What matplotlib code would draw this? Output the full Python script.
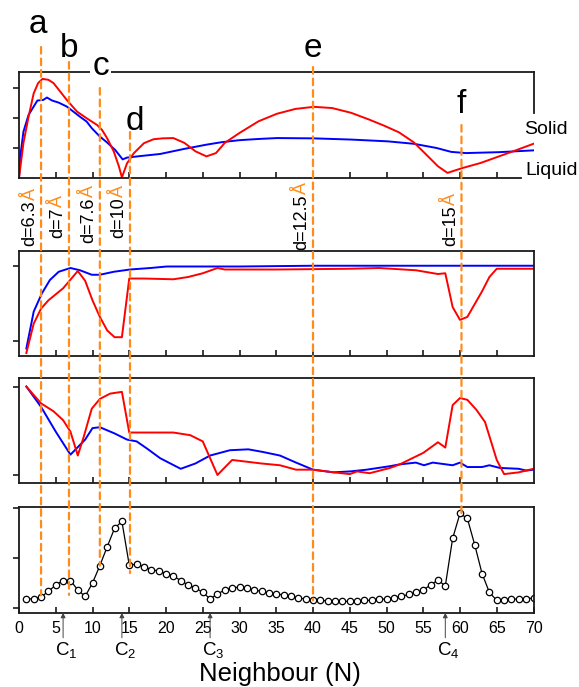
import matplotlib
matplotlib.use("Agg")
import matplotlib.pyplot as plt
from matplotlib.patches import ConnectionPatch

plt.rcParams["font.family"] = "Liberation Sans"
plt.rcParams["mathtext.fontset"] = "custom"
plt.rcParams["mathtext.rm"] = "Liberation Sans"
plt.rcParams["mathtext.it"] = "Liberation Sans:italic"

# ---- top panel: solid / liquid curves
top_n_red = [0, 0.6, 1.3, 2.0, 2.6, 3.2, 4.0, 4.7, 5.6, 6.5, 7.9, 9.2, 10.6, 11.3, 12.0,
             12.9, 13.6, 14.0, 14.7, 15.6, 17.0, 18.3, 19.5, 21.0, 22.5, 24.0, 25.5, 26.8,
             28.0, 30.0, 32.6, 35.1, 37.6, 40.1, 42.6, 45.2, 47.7, 49.7, 51.7, 53.7, 55.2,
             57.0, 58.3, 60.3, 62.8, 65.3, 67.8, 70]
top_red = [0, 1.16, 2.04, 2.82, 3.16, 3.30, 3.27, 3.16, 2.88, 2.60, 2.21, 1.99, 1.77, 1.60,
           1.32, 0.88, 0.38, 0.02, 0.49, 0.82, 1.16, 1.29, 1.32, 1.33, 1.17, 0.89, 0.72, 0.83,
           1.17, 1.50, 1.89, 2.14, 2.30, 2.37, 2.33, 2.17, 1.94, 1.74, 1.52, 1.19, 0.83,
           0.39, 0.17, 0.33, 0.50, 0.72, 0.94, 1.14]
top_n_blue = [0, 0.23, 0.6, 1.3, 2.0, 2.5, 3.3, 3.8, 4.5, 5.4, 6.5, 7.4, 8.3, 9.2, 9.9, 11.0,
              12.0, 13.1, 14.1, 14.7, 16.5, 19.2, 22.5, 25.5, 27.5, 30.0, 32.6, 35.1, 40.1,
              45.2, 50.2, 53.7, 56.8, 58.8, 60.8, 65.3, 70]
top_blue = [0, 0.82, 1.54, 2.10, 2.38, 2.58, 2.60, 2.68, 2.58, 2.51, 2.38, 2.21, 2.04, 1.88,
            1.66, 1.38, 1.18, 0.93, 0.62, 0.68, 0.73, 0.80, 0.97, 1.11, 1.19, 1.26, 1.30,
            1.33, 1.32, 1.28, 1.22, 1.14, 1.00, 0.87, 0.83, 0.86, 0.92]

# ---- second panel
mid1_n_blue = [1, 2, 3.1, 4.2, 5.4, 7.0, 8.3, 9.9, 11.0, 12.9, 15.1, 17.9, 20.1, 25, 30, 40,
               50, 60, 70]
mid1_blue = [-0.10, 0.39, 0.63, 0.81, 0.92, 0.97, 0.94, 0.88, 0.88, 0.92, 0.95, 0.97, 0.99,
             0.99, 0.99, 1.0, 1.0, 1.0, 1.0]
mid1_n_red = [1, 2, 3, 4, 6, 8, 9, 10, 11, 12, 13, 14, 15, 17, 21, 23, 25, 27, 28, 35, 45,
              49, 54, 57, 58, 59, 60, 61, 63, 64, 65, 70]
mid1_red = [-0.16, 0.23, 0.43, 0.54, 0.70, 0.93, 0.80, 0.54, 0.32, 0.14, 0.05, 0.05, 0.83,
            0.83, 0.82, 0.85, 0.90, 0.97, 0.95, 0.95, 0.96, 0.97, 0.94, 0.89, 0.90, 0.45,
            0.28, 0.32, 0.66, 0.85, 0.96, 0.96]

# ---- third panel
mid2_n_blue = [1, 3, 5, 7, 9, 10, 11, 13, 14.7, 16, 17.4, 19.2, 22, 24, 26, 28.7, 31.2, 33.2,
               35.5, 37.7, 40, 42.8, 45, 47.3, 50.5, 51.8, 54, 55.1, 56.3, 59, 60, 61, 63,
               64, 65.4, 68, 69, 70]
mid2_blue = [1.0, 0.77, 0.49, 0.23, 0.40, 0.53, 0.54, 0.47, 0.40, 0.38, 0.30, 0.19, 0.07,
             0.13, 0.22, 0.28, 0.29, 0.26, 0.22, 0.14, 0.06, 0.03, 0.04, 0.06, 0.10, 0.12,
             0.14, 0.11, 0.14, 0.11, 0.14, 0.09, 0.09, 0.11, 0.08, 0.07, 0.05, 0.06]
mid2_n_red = [1, 3, 4.7, 6, 7, 8, 8.8, 9.9, 11, 12.4, 14, 15, 21, 23.3, 25, 27, 29, 31, 33,
              35.5, 37.7, 40, 42.8, 45, 46, 47.7, 50.5, 51.8, 55, 57, 58, 59, 60, 61, 62.2,
              63.4, 65, 66, 68, 70]
mid2_red = [1.0, 0.81, 0.72, 0.62, 0.49, 0.22, 0.43, 0.75, 0.86, 0.92, 0.94, 0.48, 0.48,
            0.45, 0.38, 0.0, 0.17, 0.15, 0.13, 0.11, 0.06, 0.06, 0.03, 0.01, 0.04, 0.02,
            0.08, 0.12, 0.25, 0.37, 0.31, 0.79, 0.87, 0.85, 0.74, 0.60, 0.17, 0.01, 0.03,
            0.07]

# ---- bottom panel, one point per neighbour
neighbours = list(range(1, 71))
counts = [0.18, 0.18, 0.22, 0.33, 0.46, 0.55, 0.55, 0.36, 0.23, 0.50,
          0.85, 1.23, 1.60, 1.74, 0.86, 0.88, 0.83, 0.77, 0.74, 0.69,
          0.64, 0.55, 0.46, 0.40, 0.31, 0.18, 0.28, 0.36, 0.40, 0.42,
          0.39, 0.36, 0.33, 0.30, 0.28, 0.26, 0.23, 0.20, 0.18, 0.16,
          0.15, 0.14, 0.13, 0.13, 0.13, 0.14, 0.15, 0.15, 0.17, 0.18,
          0.20, 0.23, 0.27, 0.31, 0.36, 0.46, 0.56, 0.44, 1.40, 1.90,
          1.80, 1.27, 0.69, 0.31, 0.15, 0.15, 0.17, 0.18, 0.18, 0.20]

# shell markers
shell_n = [3, 6.8, 11, 15.1, 40, 60.2]
shell_letters = ["a", "b", "c", "d", "e", "f"]
shell_d = ["6.3", "7", "7.6", "10", "12.5", "15"]
c_n = [6, 14, 26, 58]
c_names = ["C$_1$", "C$_2$", "C$_3$", "C$_4$"]

# layout helpers (pixel based)
letter_base = [1.368, 1.142, 0.972, 0.453, 1.142, 0.613]
letter_dx = [-0.4, 0.0, 0.1, 0.7, 0.0, 0.0]
line_start = [1.236, 1.094, 0.849, 0.434, 1.047, 0.50]
line_end = [0.25, 0.26, 0.85, 0.70, 0.15, 1.90]
dlabel_top = [-0.094, -0.160, -0.066, -0.066, -0.038, -0.142]

RED = "#ff0000"
BLUE = "#0000ff"
ORANGE = "#ff8c1a"
SPINE = "#1a1a1a"

fig = plt.figure(figsize=(5.79, 6.87), dpi=100)


def panel(bottom_px, top_px):
    ax = fig.add_axes([19 / 579, 1 - bottom_px / 687, 514.5 / 579,
                       (bottom_px - top_px) / 687])
    ax.set_xlim(0, 70)
    for s in ax.spines.values():
        s.set_linewidth(1.3)
        s.set_color(SPINE)
    ax.tick_params(axis="x", direction="in", length=4.5, width=1.2, color=SPINE,
                   top=False, labelbottom=False)
    ax.tick_params(axis="y", direction="out", length=4.5, width=1.2, color=SPINE,
                   labelleft=False)
    ax.set_xticks(range(5, 70, 5))
    return ax


ax_top = panel(178, 72)
ax_m1 = panel(356, 250.7)
ax_m2 = panel(483.3, 377.7)
ax_bot = panel(612.8, 507)

# top panel
ax_top.plot(top_n_blue, top_blue, color=BLUE, lw=1.4)
ax_top.plot(top_n_red, top_red, color=RED, lw=1.4)
ax_top.set_ylim(0, 3.53)
ax_top.set_yticks([1, 2, 3])
ax_top.spines["bottom"].set_bounds(0, 68.3)
ax_top.spines["right"].set_bounds(2.16, 3.53)
ax_top.text(68.7, 0.462, "Solid", transform=ax_top.get_xaxis_transform(),
            fontsize=14, ha="left", va="center", clip_on=False)
ax_top.text(68.9, 0.075, "Liquid", transform=ax_top.get_xaxis_transform(),
            fontsize=14, ha="left", va="center", clip_on=False)

# middle panels
ax_m1.plot(mid1_n_blue, mid1_blue, color=BLUE, lw=1.4)
ax_m1.plot(mid1_n_red, mid1_red, color=RED, lw=1.4)
ax_m1.set_ylim(-0.2, 1.2)
ax_m1.set_yticks([0, 1])

ax_m2.plot(mid2_n_blue, mid2_blue, color=BLUE, lw=1.4)
ax_m2.plot(mid2_n_red, mid2_red, color=RED, lw=1.4)
ax_m2.set_ylim(-0.094, 1.10)
ax_m2.set_yticks([0, 1])

# bottom panel
ax_bot.plot(neighbours, counts, color="black", lw=0.9, marker="o", ms=4.6,
            mfc="white", mec="black", mew=0.9)
ax_bot.set_ylim(-0.1, 2.03)
ax_bot.set_yticks([0, 1, 2])
ax_bot.set_xticks(range(0, 71, 5))
ax_bot.tick_params(axis="x", labelbottom=True, labelsize=11.5, pad=6)

for n, name in zip(c_n, c_names):
    ax_bot.annotate("", xy=(n, 0), xycoords=ax_bot.get_xaxis_transform(),
                    xytext=(0, -18), textcoords="offset points",
                    arrowprops=dict(arrowstyle="-|>", color="#444444", lw=0.7,
                                    mutation_scale=7, shrinkA=0, shrinkB=0))
    ax_bot.annotate(name, xy=(n, 0), xycoords=ax_bot.get_xaxis_transform(),
                    xytext=(2, -19.5), textcoords="offset points",
                    ha="center", va="top", fontsize=13.5)

fig.text(280 / 579, 1 - 681 / 687, "Neighbour (N)", ha="center", va="baseline",
         fontsize=18.5)

# shell lines running through every panel
xt = ax_top.get_xaxis_transform()
for i, n in enumerate(shell_n):
    con = ConnectionPatch(xyA=(n, line_start[i]), coordsA=xt,
                          xyB=(n, line_end[i]), coordsB=ax_bot.transData,
                          color=ORANGE, lw=1.6, linestyle=(0, (3, 2.2)), zorder=6)
    fig.add_artist(con)

    txt = ax_top.text(n + letter_dx[i], letter_base[i], shell_letters[i], transform=xt,
                      fontsize=24, ha="center", va="baseline", clip_on=False, zorder=7)
    if shell_letters[i] in ("c", "f"):
        txt.set_bbox(dict(facecolor="white", edgecolor="none", pad=1.5))

    # distance label: black value, orange angstrom sign
    lx = n - 1.5
    ax_top.annotate("Å", xy=(lx, dlabel_top[i]), xycoords=xt, rotation=90,
                    ha="center", va="top", fontsize=13, color=ORANGE,
                    annotation_clip=False)
    ax_top.annotate("d=" + shell_d[i], xy=(lx, dlabel_top[i]), xycoords=xt,
                    xytext=(0, -8.8), textcoords="offset points", rotation=90,
                    ha="center", va="top", fontsize=13, color="black",
                    annotation_clip=False)

fig.savefig("out.png", dpi=100)
